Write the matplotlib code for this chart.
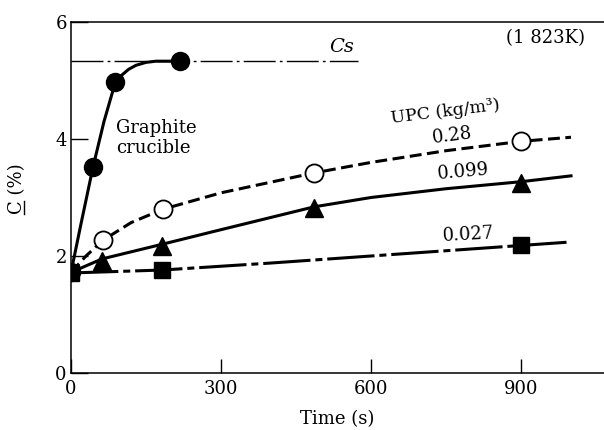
import matplotlib
matplotlib.use("Agg")
import matplotlib.pyplot as plt
from matplotlib.lines import Line2D
import numpy as np

plt.rcParams['font.family'] = ['DejaVu Serif', 'Liberation Serif']

# --- measured points ---
graphite_t = [0, 44, 88, 218]
graphite_c = [1.72, 3.52, 4.97, 5.33]
upc028_t = [64, 184, 486, 900]
upc028_c = [2.27, 2.80, 3.42, 3.97]
upc0099_t = [62, 182, 486, 900]
upc0099_c = [1.92, 2.17, 2.82, 3.24]
upc0027_t = [0, 182, 900]
upc0027_c = [1.71, 1.76, 2.18]

# --- fitted curves ---
graphite_curve_t = [0, 20, 44, 66, 88, 100, 115, 130, 150, 170, 218]
graphite_curve_c = [1.72, 2.55, 3.52, 4.3, 4.95, 5.08, 5.19, 5.26, 5.31, 5.33, 5.33]
c028_curve_t = [0, 30, 64, 120, 184, 300, 486, 600, 750, 900, 1000]
c028_curve_c = [1.72, 2.0, 2.27, 2.57, 2.80, 3.08, 3.42, 3.6, 3.8, 3.96, 4.03]
c0099_curve_t = [0, 62, 182, 300, 486, 600, 750, 900, 1000]
c0099_curve_c = [1.72, 1.95, 2.20, 2.45, 2.84, 3.0, 3.15, 3.27, 3.37]
c0027_curve_t = [0, 182, 400, 600, 800, 900, 1000]
c0027_curve_c = [1.71, 1.76, 1.88, 2.0, 2.12, 2.18, 2.24]

cs_value = 5.33
cs_t = [0, 574]

fig = plt.figure(figsize=(6.04, 4.30), dpi=100)
ax = fig.add_axes([71/604, 1 - 373/430, 533/604, (373-22)/430])
ax.set_xlim(0, 1066)
ax.set_ylim(0, 6)

lw = 2.2
ax.plot(cs_t, [cs_value, cs_value], color='black', lw=1.0, dashes=(23, 3, 2, 3))
ax.plot(graphite_curve_t, graphite_curve_c, color='black', lw=lw, solid_capstyle='butt',
        solid_joinstyle='round')
ax.plot(c028_curve_t, c028_curve_c, color='black', lw=lw, dashes=(3.9, 1.8))
ax.plot(c0099_curve_t, c0099_curve_c, color='black', lw=lw)
ax.plot(c0027_curve_t, c0027_curve_c, color='black', lw=lw, dashes=(15.5, 1.6, 2.3, 1.6))

ax.plot(graphite_t, graphite_c, 'o', color='black', ms=13, zorder=5)
ax.plot(upc028_t, upc028_c, 'o', mfc='white', mec='black', mew=1.3, ms=13, zorder=5)
ax.plot(upc0099_t, upc0099_c, '^', color='black', ms=13, zorder=5)
ax.plot(upc0027_t, upc0027_c, 's', color='black', ms=12, zorder=6)

ax.spines['right'].set_visible(False)
for s in ['left', 'bottom', 'top']:
    ax.spines[s].set_linewidth(1.1)

ax.set_xticks([0, 300, 600, 900])
ax.set_xticklabels(['0', '300', '600', '900'])
ax.set_yticks([0, 2, 4, 6])
ax.tick_params(axis='both', direction='in', labelsize=13, width=1.0, pad=4)
ax.tick_params(axis='y', length=12, pad=3)
ax.tick_params(axis='x', length=10, pad=5)

ax.set_xlabel('Time (s)', fontsize=13, labelpad=9)
ylab = fig.text(17/604, 1 - 189/430, 'C (%)', fontsize=13, rotation=90,
                ha='center', va='center')

ax.text(542, 5.57, 'Cs', fontsize=14, style='italic', ha='center', va='center')
ax.text(948, 5.73, '(1 823K)', fontsize=13, ha='center', va='center')
ax.text(90, 4.02, 'Graphite\ncrucible', fontsize=13, ha='left', va='center', linespacing=1.15)
ax.text(748, 4.46, 'UPC (kg/m³)', fontsize=12.5, ha='center', va='center', rotation=7)
ax.text(762, 4.05, '0.28', fontsize=13, ha='center', va='center', rotation=7)
ax.text(784, 3.44, '0.099', fontsize=13, ha='center', va='center', rotation=5)
ax.text(794, 2.37, '0.027', fontsize=13, ha='center', va='center', rotation=3)

# underline under "C" of the y label (rotated: line to the right of the glyph)
fig.canvas.draw()
r = fig.canvas.get_renderer()
bb = ylab.get_window_extent(r)
tmp = fig.text(0, 0, 'C', fontsize=13)
cw = tmp.get_window_extent(r).width
tmp.remove()
xline = bb.x1 - 2
fig.add_artist(Line2D([xline / 604, xline / 604],
                      [(bb.y0 + 0.5) / 430, (bb.y0 + cw - 0.5) / 430],
                      transform=fig.transFigure, color='black', lw=1.0))

fig.savefig('out.png', dpi=100)
